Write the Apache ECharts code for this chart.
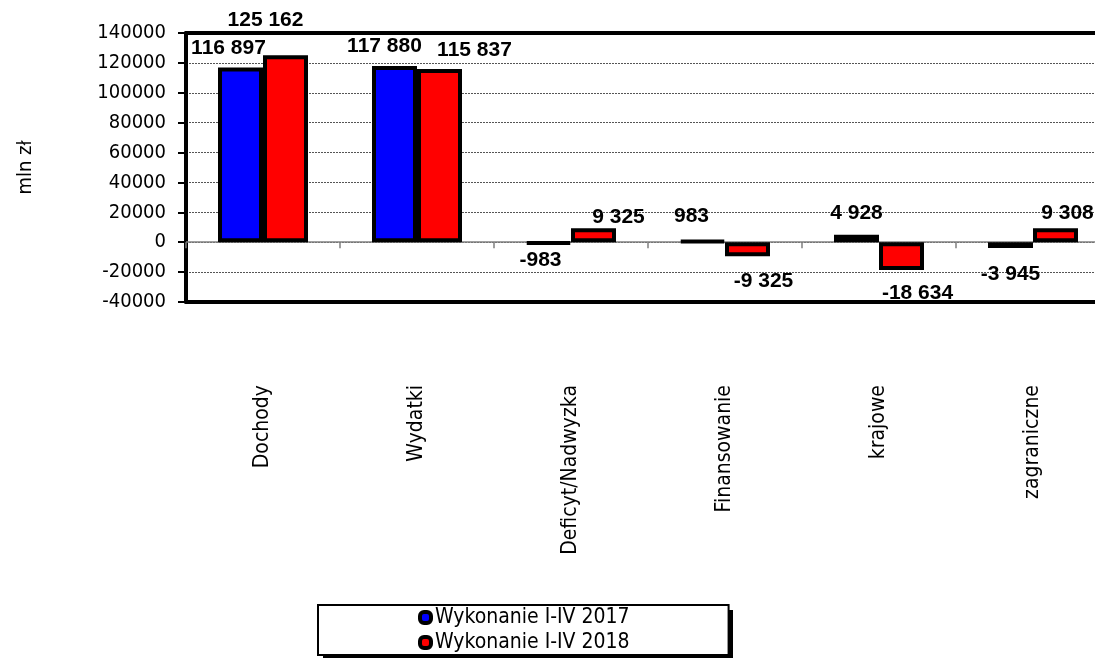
<!DOCTYPE html>
<html>
<head>
<meta charset="utf-8">
<script src="https://cdn.jsdelivr.net/npm/echarts@6/dist/echarts.min.js"></script>
<style>
html,body{margin:0;padding:0;background:#fff;}
#chart{width:1095px;height:658px;}
</style>
</head>
<body>
<div id="chart"></div>
<script>
// ---- data ----
const categories = ['Dochody', 'Wydatki', 'Deficyt/Nadwyzka', 'Finansowanie', 'krajowe', 'zagraniczne'];
const series2017Name = 'Wykonanie I-IV 2017';
const series2018Name = 'Wykonanie I-IV 2018';
const values2017 = [116897, 117880, -983, 983, 4928, -3945];
const values2018 = [125162, 115837, 9325, -9325, -18634, 9308];
const yTicks = { min: -40000, max: 140000, interval: 20000 };
const yAxisName = 'mln zł';

// ---- style (label nudges, not data) ----
const labelNudge2017 = [[-12, -4], [-10, -4], [-8, 0], [-11, -8], [0, -6], [0, 11]];
const labelNudge2018 = [[-20, -19], [35, -3], [25, 4], [16, 10], [16, 8], [12, 0]];

const AXIS_FONT = '"DejaVu Sans Condensed", "DejaVu Sans", sans-serif';
const LABEL_FONT = '"Liberation Sans", Arial, sans-serif';
const COLOR_2017 = '#0000FF';
const COLOR_2018 = '#FF0000';

function fmt(v) {
  const s = Math.abs(v).toString().replace(/\B(?=(\d{3})+(?!\d))/g, ' ');
  return (v < 0 ? '-' : '') + s;
}

function buildData(values, nudges) {
  return values.map((v, i) => ({
    value: v,
    label: {
      position: v >= 0 ? 'top' : 'bottom',
      offset: nudges[i]
    }
  }));
}

const chart = echarts.init(document.getElementById('chart'));
const barCommon = {
  type: 'bar',
  barWidth: 45,
  barGap: '0%',
  label: {
    show: true,
    formatter: p => fmt(p.value),
    color: '#000',
    fontFamily: LABEL_FONT,
    fontWeight: 'bold',
    fontSize: 21,
    distance: 5
  }
};

const frameAxis = (pos) => ({
  type: 'category',
  data: categories,
  position: pos,
  axisLine: { show: true, onZero: false, lineStyle: { color: '#000', width: 4 } },
  axisTick: { show: false },
  axisLabel: { show: false },
  splitLine: { show: false }
});

chart.setOption({
  animation: false,
  backgroundColor: '#fff',
  graphic: [{
    type: 'rect',
    z: 0,
    shape: { x: 323, y: 610, width: 410, height: 50 },
    style: { fill: '#000' },
    silent: true
  }],
  grid: {
    left: 186, top: 33, width: 924, height: 269,
    outerBoundsMode: 'none',
    containLabel: false,
    show: false
  },
  legend: {
    orient: 'vertical',
    left: 318, top: 605,
    padding: [0, 99, 0, 99],
    itemGap: 0,
    itemWidth: 0, itemHeight: 15,
    icon: 'none',
    backgroundColor: '#fff',
    borderColor: '#000', borderWidth: 2, borderRadius: 0,
    z: 10,
    formatter: name => (name === series2017Name ? '{a|}' : '{b|}') + '{t|' + name + '}',
    textStyle: {
      fontFamily: AXIS_FONT, fontSize: 21, color: '#000', lineHeight: 25,
      rich: {
        a: { width: 7, height: 7, backgroundColor: COLOR_2017, borderColor: '#000', borderWidth: 4, borderRadius: 2 },
        b: { width: 7, height: 7, backgroundColor: COLOR_2018, borderColor: '#000', borderWidth: 4, borderRadius: 2 },
        t: { fontFamily: AXIS_FONT, fontSize: 21, color: '#000', lineHeight: 25, padding: [0, 0, 0, 6] }
      }
    },
    data: [series2017Name, series2018Name]
  },
  xAxis: [{
    type: 'category',
    data: categories,
    axisLine: { onZero: true, lineStyle: { color: '#808080', width: 1.5 } },
    axisTick: { show: true, length: 6, lineStyle: { color: '#808080', width: 1.5 } },
    axisLabel: { rotate: 90, margin: 83, fontFamily: AXIS_FONT, fontSize: 21, color: '#000', interval: 0 },
    splitLine: { show: false }
  }, frameAxis('top'), frameAxis('bottom')],
  yAxis: {
    type: 'value',
    min: yTicks.min, max: yTicks.max, interval: yTicks.interval,
    name: yAxisName,
    nameLocation: 'middle',
    nameRotate: 90,
    nameGap: 150,
    nameTextStyle: { fontFamily: AXIS_FONT, fontSize: 20, color: '#000' },
    axisLine: { show: true, lineStyle: { color: '#000', width: 4 } },
    axisTick: { show: true, length: 8, lineStyle: { color: '#000', width: 2 } },
    axisLabel: { margin: 20, fontFamily: AXIS_FONT, fontSize: 20, color: '#000', formatter: v => String(v) },
    splitLine: { show: true, lineStyle: { color: '#555', width: 1, type: [2, 1] } }
  },
  series: [
    Object.assign({}, barCommon, {
      name: series2017Name,
      data: buildData(values2017, labelNudge2017),
      itemStyle: { color: COLOR_2017, borderColor: '#000', borderWidth: 4 }
    }),
    Object.assign({}, barCommon, {
      name: series2018Name,
      data: buildData(values2018, labelNudge2018),
      itemStyle: { color: COLOR_2018, borderColor: '#000', borderWidth: 4 }
    })
  ]
});
</script>
</body>
</html>
